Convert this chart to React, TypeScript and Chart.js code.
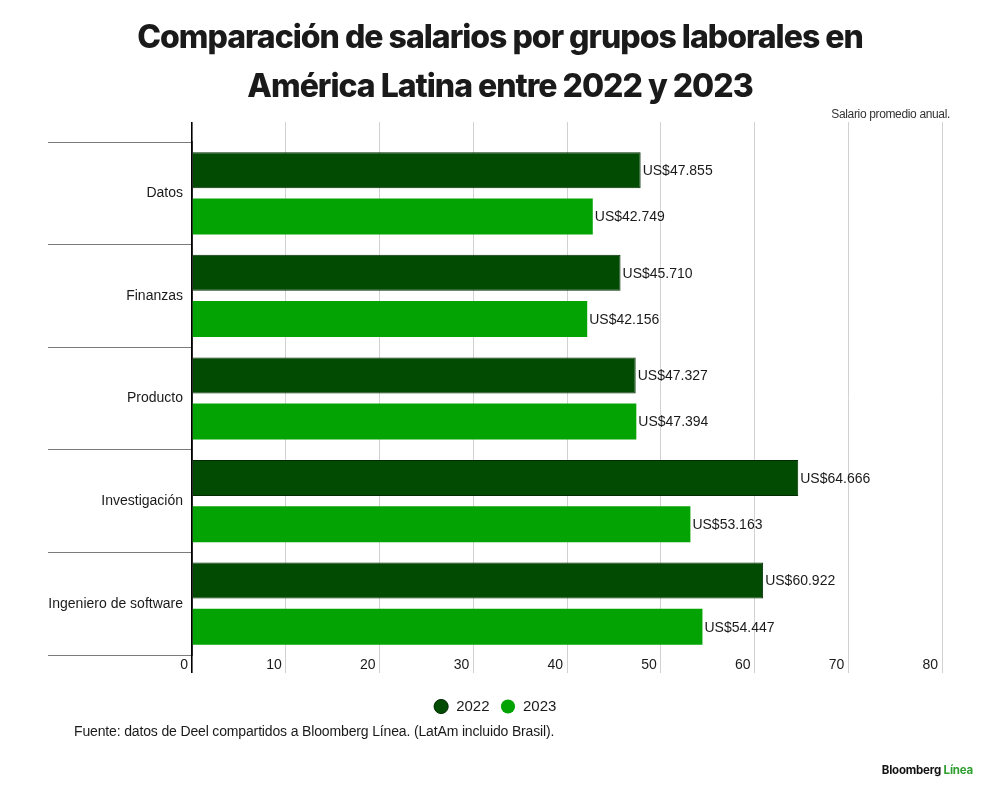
import React, { useEffect, useRef } from 'react';
import { Chart, registerables } from 'chart.js';

Chart.register(...registerables);

const categories = ['Datos', 'Finanzas', 'Producto', 'Investigación', 'Ingeniero de software'];
const seriesLabels = ['2022', '2023'];
const salaries2022 = [47855, 45710, 47327, 64666, 60922];
const salaries2023 = [42749, 42156, 47394, 53163, 54447];
const seriesColors = ['#024b02', '#03a303'];
const seriesBorders = ['#012a01', '#03a303'];
const axisMin = 0;
const axisMax = 80;
const axisStep = 10;

const rawSeries = [salaries2022, salaries2023];

const FONT = '"Liberation Sans", Arial, sans-serif';

function formatUSD(v: number): string {
  return 'US$' + String(v).replace(/\B(?=(\d{3})+(?!\d))/g, '.');
}

const valueLabels = {
  id: 'valueLabels',
  afterDatasetsDraw(chart: any) {
    const ctx = chart.ctx as CanvasRenderingContext2D;
    ctx.save();
    ctx.font = `14px ${FONT}`;
    ctx.fillStyle = '#1a1a1a';
    ctx.textBaseline = 'middle';
    ctx.textAlign = 'left';
    chart.data.datasets.forEach((_ds: any, di: number) => {
      const meta = chart.getDatasetMeta(di);
      meta.data.forEach((bar: any, i: number) => {
        ctx.fillText(formatUSD(rawSeries[di][i]), bar.x + 2, bar.y + 1);
      });
    });
    ctx.restore();
  },
};

const gridColor = (c: any) => (c.tick && c.tick.value === 0 ? '#000000' : '#d2d2d2');
const gridWidth = (c: any) => (c.tick && c.tick.value === 0 ? 1.6 : 1);

export default function App() {
  const ref = useRef<HTMLCanvasElement>(null);

  useEffect(() => {
    if (!ref.current) return;
    const chart = new Chart(ref.current, {
      type: 'bar',
      data: {
        labels: categories,
        datasets: rawSeries.map((arr, i) => ({
          label: seriesLabels[i],
          data: arr.map((v) => v / 1000),
          backgroundColor: seriesColors[i],
          borderColor: seriesBorders[i],
          borderWidth: i === 0 ? 1 : 0,
          categoryPercentage: 0.9,
          barPercentage: 0.78,
          xAxisID: 'x',
        })),
      },
      plugins: [valueLabels],
      options: {
        indexAxis: 'y',
        responsive: false,
        animation: false,
        devicePixelRatio: 1,
        layout: { padding: { left: 48, right: 58, top: 122, bottom: 75 } },
        plugins: {
          title: { display: false },
          tooltip: { enabled: false },
          legend: {
            display: true,
            position: 'bottom',
            labels: {
              usePointStyle: true,
              pointStyle: 'circle',
              boxWidth: 15,
              boxHeight: 10,
              padding: 11,
              color: '#1a1a1a',
              font: { family: FONT, size: 15 },
            },
          },
        },
        scales: {
          x: {
            type: 'linear',
            position: 'bottom',
            min: axisMin,
            max: axisMax,
            ticks: {
              stepSize: axisStep,
              align: 'end',
              padding: -16,
              color: '#1a1a1a',
              font: { family: FONT, size: 14 },
              callback: (v: any) => `${v} `,
            },
            grid: {
              color: gridColor,
              lineWidth: gridWidth,
              tickLength: 18,
              drawTicks: true,
            },
            border: { display: false },
            afterFit: (s: any) => {
              s.height = 33;
            },
          },
          x2: {
            type: 'linear',
            position: 'top',
            min: axisMin,
            max: axisMax,
            ticks: { stepSize: axisStep, display: false },
            grid: {
              color: gridColor,
              lineWidth: gridWidth,
              tickLength: 20,
              drawOnChartArea: false,
            },
            border: { display: false },
            afterFit: (s: any) => {
              s.height = 20;
            },
          },
          y: {
            type: 'category',
            z: 1,
            grid: {
              offset: true,
              drawOnChartArea: false,
              tickLength: 144,
              color: '#7a7a7a',
              lineWidth: 1,
            },
            border: { display: true, color: '#000000', width: 1.6 },
            ticks: {
              padding: -135,
              color: '#1a1a1a',
              font: { family: FONT, size: 14 },
            },
            afterFit: (s: any) => {
              s.width = 144;
            },
          },
        },
      } as any,
    });
    return () => chart.destroy();
  }, []);

  return (
    <div
      style={{
        position: 'fixed',
        left: 0,
        top: 0,
        width: 1000,
        height: 799,
        background: '#ffffff',
        fontFamily: FONT,
        overflow: 'hidden',
      }}
    >
      <canvas
        ref={ref}
        width={1000}
        height={799}
        style={{ position: 'absolute', left: 0, top: 0, width: 1000, height: 799 }}
      />
      <div
        style={{
          position: 'absolute',
          top: 12,
          left: 0,
          width: 1000,
          textAlign: 'center',
          fontFamily: 'Inter, "Liberation Sans", sans-serif',
          fontWeight: 800,
          fontSize: 32,
          lineHeight: '49px',
          letterSpacing: '-1.0px',
          color: '#1a1a1a',
        }}
      >
        Comparación de salarios por grupos laborales en
        <br />
        América Latina entre 2022 y 2023
      </div>
      <div
        style={{
          position: 'absolute',
          top: 108,
          right: 50,
          fontSize: 12,
          lineHeight: '12px',
          letterSpacing: '-0.35px',
          color: '#333333',
          whiteSpace: 'nowrap',
        }}
      >
        Salario promedio anual.
      </div>
      <div
        style={{
          position: 'absolute',
          top: 724,
          left: 74,
          fontSize: 14,
          lineHeight: '14px',
          letterSpacing: '-0.15px',
          color: '#1a1a1a',
          whiteSpace: 'nowrap',
        }}
      >
        Fuente: datos de Deel compartidos a Bloomberg Línea. (LatAm incluido Brasil).
      </div>
      <div
        style={{
          position: 'absolute',
          top: 765,
          right: 27,
          fontFamily: 'Inter, "Liberation Sans", sans-serif',
          fontWeight: 700,
          fontSize: 11.5,
          lineHeight: '11.5px',
          letterSpacing: '-0.2px',
          color: '#111111',
          whiteSpace: 'nowrap',
        }}
      >
        Bloomberg <span style={{ color: '#2e9e2e' }}>Línea</span>
      </div>
    </div>
  );
}
